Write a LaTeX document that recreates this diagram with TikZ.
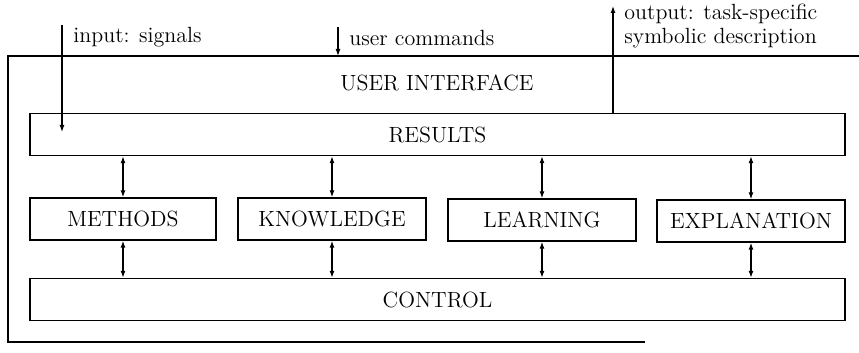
\documentclass[tikz,border=0pt]{standalone}
\usepackage{tikz}
\usetikzlibrary{arrows.meta, positioning, calc}
\newcommand{\txtsize}{\fontsize{11}{12}\selectfont}

\begin{document}
\begin{tikzpicture}[x=0.5pt, y=-0.5pt,
          box/.style={draw, line width=0.7pt, minimum height=21pt,
                      inner sep=0pt, align=center, font=\txtsize},
          wide/.style={box, minimum width=407.5pt},
          unit/.style={box, minimum width=94pt},
          lbl/.style={anchor=west, inner sep=0pt, align=left, font=\txtsize},
          arr/.style={-{Latex[length=3.5pt, width=2.5pt]}, line width=0.6pt},
          dbl/.style={{Latex[length=3.5pt, width=2.5pt]}-{Latex[length=3.5pt, width=2.5pt]},
                      line width=0.6pt},
        ]
        \useasboundingbox (0,0) rectangle (859,353);
        % outer frame (open on the right)
        \coordinate (frameTR) at (859,56);
        \coordinate (frameTL) at (8,56);
        \coordinate (frameBL) at (8,342);
        \coordinate (frameBR) at (645,342);
        \draw[line width=0.7pt] (frameTR) -- (frameTL) -- (frameBL) -- (frameBR);
        \node[font=\txtsize] (ui) at (437,83) {USER INTERFACE};

        \node[wide] (results) at (437.5,134.5) {RESULTS};
        \node[unit, minimum width=93pt] (methods) at (123,219) {METHODS};
        \node[unit] (knowledge) at (332,219) {KNOWLEDGE};
        \node[unit] (learning)  at (542,220) {LEARNING};
        \node[unit] (explain)   at (751,221) {EXPLANATION};
        \node[wide] (control) at (437.5,299.5) {CONTROL};

        % external signals
        \coordinate (inTop)  at (62,25);
        \coordinate (inEnd)  at (62,132);
        \coordinate (cmdTop) at (338,27);
        \coordinate (outTop) at (613,6);
        \node[lbl] (inLbl)  at (73,37)  {input: signals};
        \node[lbl] (cmdLbl) at (349,38) {user commands};
        \node[lbl] (outLbl) at (624,26) {output: task-specific\\symbolic description};
        \draw[arr] (inTop) -- (inEnd);
        \draw[arr] (cmdTop) -- (cmdTop |- frameTL);
        \draw[arr] (results.north -| outTop) -- (outTop);

        % links to results and control
        \foreach \u in {methods, knowledge, learning, explain} {
          \draw[dbl] (results.south -| \u.north) -- (\u.north);
          \draw[dbl] (\u.south) -- (control.north -| \u.south);
        }
\end{tikzpicture}
\end{document}
